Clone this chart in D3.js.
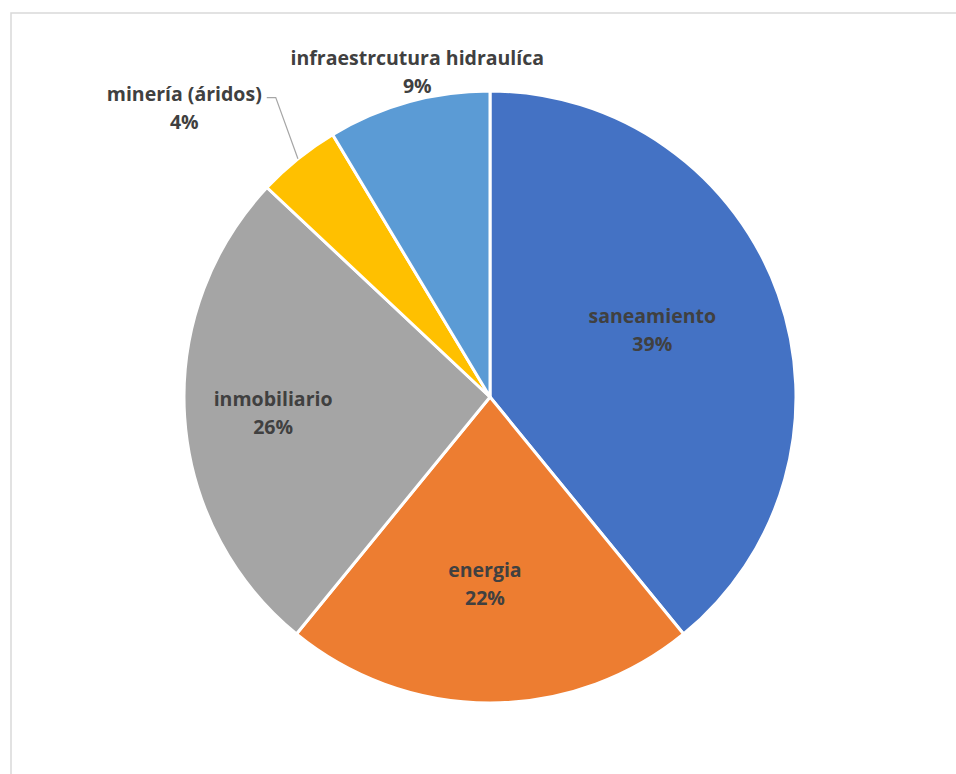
<!DOCTYPE html>
<html>
<head>
<meta charset="utf-8">
<script src="https://cdn.jsdelivr.net/npm/d3@7"></script>
<style>
	body { margin: 0; background: #fff; }
	text { font-family: "Open Sans", Lato, sans-serif; font-weight: bold; }
</style>
</head>
<body>
<div id="chart"></div>
<script>

// slice data, clockwise from 12 o'clock (shares, labels show rounded %)
const categories = ["saneamiento", "energia", "inmobiliario", "minería (áridos)", "infraestrcutura hidraulíca"];
const values = [39.1, 21.8, 26.1, 4.4, 8.6];
const colors = ["#4472C4", "#ED7D31", "#A5A5A5", "#FFC000", "#5B9BD5"];

let width = 956, height = 774;
let cx = 490, cy = 397, radius = 306;

// where each label sits: radius factor (of pie radius) and an angle nudge in degrees
let labelLayout = [
	{ r: 0.566, da: -0.8 },
	{ r: 0.634, da: 1.5 },
	{ r: 0.713, da: -2.4 },
	{ r: 1.36, da: -8.4, leader: true },
	{ r: 1.066, da: 2.6 }
];

let svg = d3.select("#chart").append("svg")
	.attr("width", width)
	.attr("height", height);

// chart frame
svg.append("rect")
	.attr("x", 11)
	.attr("y", 13)
	.attr("width", 1000)
	.attr("height", 1000)
	.attr("fill", "none")
	.attr("stroke", "#d9d9d9")
	.attr("stroke-width", 1.5);

let g = svg.append("g")
	.attr("transform", `translate(${cx},${cy})`);

let data = categories.map((c, i) => ({ name: c, value: values[i], color: colors[i] }));

let pie = d3.pie()
	.value(d => d.value)
	.sort(null);

let arc = d3.arc()
	.innerRadius(0)
	.outerRadius(radius);

let arcs = pie(data);

g.selectAll(".slice")
	.data(arcs)
	.enter()
	.append("path")
	.attr("class", "slice")
	.attr("d", arc)
	.attr("fill", d => d.data.color)
	.attr("stroke", "#fff")
	.attr("stroke-width", 3)
	.attr("stroke-linejoin", "round");

function polar(angle, r) {
	return [Math.sin(angle) * r, -Math.cos(angle) * r];
}

let labelPos = arcs.map((d, i) => {
	let lay = labelLayout[i];
	let mid = (d.startAngle + d.endAngle) / 2 + lay.da * Math.PI / 180;
	return polar(mid, radius * lay.r);
});

let labels = g.selectAll(".label")
	.data(arcs)
	.enter()
	.append("text")
	.attr("class", "label")
	.attr("text-anchor", "middle")
	.attr("fill", "#404040")
	.style("font-size", "19.5px")
	.attr("transform", (d, i) => `translate(${labelPos[i][0]},${labelPos[i][1]})`);

labels.append("tspan")
	.attr("x", 0)
	.attr("y", -14)
	.text(d => d.data.name);

labels.append("tspan")
	.attr("x", 0)
	.attr("y", 14)
	.text(d => Math.round(d.data.value) + "%");

// leader line for the small slice
arcs.forEach((d, i) => {
	if (!labelLayout[i].leader) return;
	let node = labels.nodes()[i];
	let first = node.querySelector("tspan").getComputedTextLength();
	let startX = labelPos[i][0] + first / 2 + 5;
	let startY = labelPos[i][1] - 14 - 3;
	let end = polar((d.startAngle + d.endAngle) / 2, radius);
	g.append("polyline")
		.attr("points", [[startX, startY], [startX + 9, startY], end].map(p => p.join(",")).join(" "))
		.attr("fill", "none")
		.attr("stroke", "#a6a6a6")
		.attr("stroke-width", 1.2);
});

</script>
</body>
</html>
